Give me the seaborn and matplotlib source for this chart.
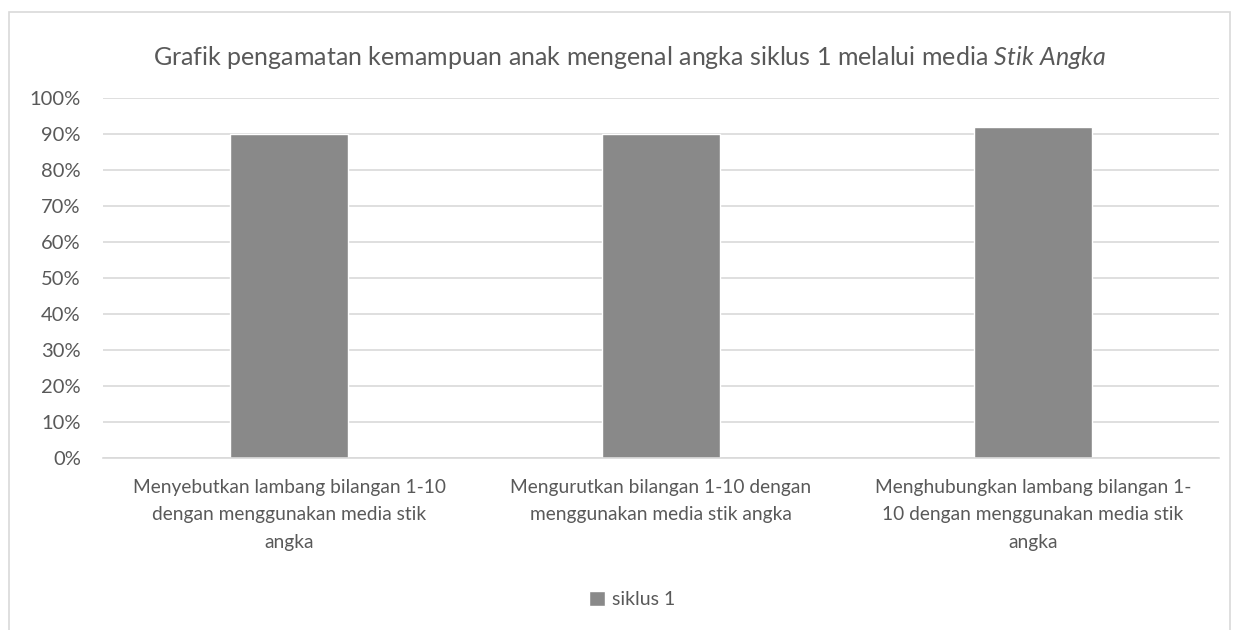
import matplotlib.pyplot as plt
import seaborn as sns
import numpy as np
import pandas as pd
from matplotlib.patches import Rectangle
from matplotlib.ticker import PercentFormatter

kategori = [
    "Menyebutkan lambang bilangan 1-10\ndengan menggunakan media stik\nangka",
    "Mengurutkan bilangan 1-10 dengan\nmenggunakan media stik angka",
    "Menghubungkan lambang bilangan 1-\n10 dengan menggunakan media stik\nangka",
]
nilai = [0.90, 0.90, 0.92]
seri = "siklus 1"

df = pd.DataFrame({"kategori": kategori, "nilai": nilai, "seri": seri})

sns.set_theme(style="white")
plt.rcParams["font.family"] = ["Lato", "DejaVu Sans"]
plt.rcParams["mathtext.fontset"] = "custom"
plt.rcParams["mathtext.rm"] = "Lato"
plt.rcParams["mathtext.it"] = "Lato:italic"

teks = "#595959"
abu = "#898989"

fig = plt.figure(figsize=(12.34, 6.3), dpi=100)
ax = fig.add_axes([0.0835, 0.273, 0.9043, 0.5714])

sns.barplot(data=df, x="kategori", y="nilai", hue="seri", palette=[abu],
            width=0.315, ax=ax, legend=True)

ax.set_ylim(0, 1.0)
ax.set_xlim(-0.5, 2.5)
ax.set_yticks(np.arange(0, 1.01, 0.1))
ax.yaxis.set_major_formatter(PercentFormatter(1.0, decimals=0))
ax.grid(axis="y", color="#d9d9d9", linewidth=1.2)
ax.set_axisbelow(True)
for s in ["top", "right", "left"]:
    ax.spines[s].set_visible(False)
ax.spines["bottom"].set_color("#d9d9d9")
ax.spines["bottom"].set_linewidth(1.2)
ax.tick_params(axis="y", length=0, labelsize=14.5, labelcolor=teks, pad=16)
ax.tick_params(axis="x", length=0, labelsize=13.8, labelcolor=teks, pad=15)
for lbl in ax.get_xticklabels():
    lbl.set_linespacing(1.75)
ax.set_xlabel("")
ax.set_ylabel("")

fig.text(0.51, 0.909,
         r"Grafik pengamatan kemampuan anak mengenal angka siklus 1 melalui media $\it{Stik\ Angka}$",
         ha="center", va="center", fontsize=18, color=teks)

leg = ax.legend(loc="center", bbox_to_anchor=(0.474, -0.394), frameon=False,
                fontsize=14, handlelength=0.8, handleheight=0.8, handletextpad=0.35,
                labelcolor=teks)

fig.patches.append(Rectangle((9 / 1234, -0.1), 1221 / 1234, 1 - 12 / 630 + 0.1,
                             transform=fig.transFigure, fill=False,
                             edgecolor="#d9d9d9", linewidth=1.2))

fig.savefig("out.png", dpi=100)
